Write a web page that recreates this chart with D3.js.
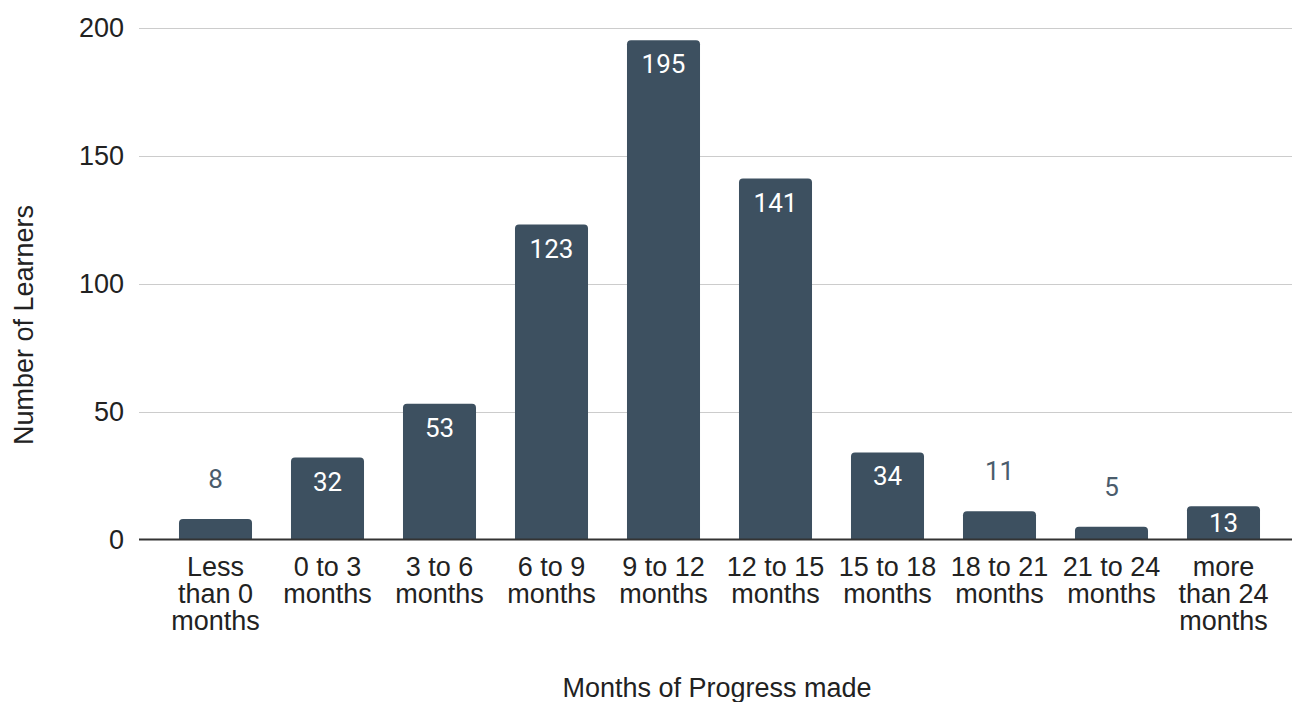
<!DOCTYPE html>
<html>
<head>
<meta charset="utf-8">
<script src="https://cdn.jsdelivr.net/npm/d3@7"></script>
<style>
  html, body { margin: 0; padding: 0; background: #fff; }
  svg { display: block; }
</style>
</head>
<body>
<svg id="chart" width="1292" height="702"></svg>
<script>
// Distribution of learners by months of progress made
const categories = [
  "Less than 0 months", "0 to 3 months", "3 to 6 months", "6 to 9 months",
  "9 to 12 months", "12 to 15 months", "15 to 18 months", "18 to 21 months",
  "21 to 24 months", "more than 24 months"
];
const categoryLines = [
  ["Less", "than 0", "months"], ["0 to 3", "months"], ["3 to 6", "months"],
  ["6 to 9", "months"], ["9 to 12", "months"], ["12 to 15", "months"],
  ["15 to 18", "months"], ["18 to 21", "months"], ["21 to 24", "months"],
  ["more", "than 24", "months"]
];
const learners = [8, 32, 53, 123, 195, 141, 34, 11, 5, 13];
const yTicks = [0, 50, 100, 150, 200];
const xTitle = "Months of Progress made";
const yTitle = "Number of Learners";

const barColor = "#3d5060";
const textColor = "#222222";
const axisFont = "'Liberation Sans', Arial, sans-serif";
const valueFont = "Roboto, 'Noto Sans', sans-serif";

const svg = d3.select("#chart");
const plotLeft = 139, plotRight = 1292, plotTop = 27.5, plotBottom = 539.5;

const x = d3.scaleBand()
  .domain(categories)
  .range([159.5, 1279.5])
  .paddingInner(0.348)
  .paddingOuter(0.174);

const y = d3.scaleLinear()
  .domain([0, 200])
  .range([plotBottom, plotTop]);

// Gridlines
svg.append("g")
  .selectAll("line")
  .data(yTicks.filter(t => t !== 0))
  .join("line")
  .attr("x1", plotLeft).attr("x2", plotRight)
  .attr("y1", d => Math.round(y(d)) + 0.5).attr("y2", d => Math.round(y(d)) + 0.5)
  .attr("stroke", "#cccccc")
  .attr("stroke-width", 1.2);

// Y tick labels
svg.append("g")
  .selectAll("text")
  .data(yTicks)
  .join("text")
  .attr("x", 124)
  .attr("y", d => y(d))
  .attr("dy", "0.36em")
  .attr("text-anchor", "end")
  .attr("font-family", axisFont)
  .attr("font-size", 27)
  .attr("fill", textColor)
  .text(d => d);

// Bars with rounded top corners
function barPath(x0, w, top, bottom, r) {
  const rr = Math.min(r, (bottom - top), w / 2);
  return `M${x0},${bottom}V${top + rr}Q${x0},${top} ${x0 + rr},${top}` +
         `H${x0 + w - rr}Q${x0 + w},${top} ${x0 + w},${top + rr}V${bottom}Z`;
}

svg.append("g")
  .selectAll("path")
  .data(categories)
  .join("path")
  .attr("d", (c, i) => barPath(x(c), x.bandwidth(), y(learners[i]), y(0), 4))
  .attr("fill", barColor);

// Value labels: inside the bar when it is tall enough, above it otherwise
svg.append("g")
  .selectAll("text")
  .data(categories)
  .join("text")
  .each(function (c, i) {
    const v = learners[i];
    const top = y(v), h = y(0) - top;
    const inside = h >= 30;
    const base = inside ? top + Math.min(33, h / 2 + 9.5) : top - 31;
    d3.select(this)
      .attr("x", x(c) + x.bandwidth() / 2)
      .attr("y", base)
      .attr("fill", inside ? "#ffffff" : "#4a5c6c");
  })
  .attr("text-anchor", "middle")
  .attr("font-family", valueFont)
  .attr("font-size", 26)
  .text((c, i) => learners[i]);

// X axis baseline
svg.append("line")
  .attr("x1", plotLeft).attr("x2", plotRight)
  .attr("y1", y(0)).attr("y2", y(0))
  .attr("stroke", "#333333")
  .attr("stroke-width", 1.8);

// X category labels (wrapped)
const xLabels = svg.append("g")
  .selectAll("text")
  .data(categories)
  .join("text")
  .attr("text-anchor", "middle")
  .attr("font-family", axisFont)
  .attr("font-size", 27)
  .attr("fill", textColor);

xLabels.each(function (c, i) {
  const t = d3.select(this);
  categoryLines[i].forEach((line, k) => {
    t.append("tspan")
      .attr("x", x(c) + x.bandwidth() / 2)
      .attr("y", 576 + k * 27)
      .text(line);
  });
});

// Axis titles
svg.append("text")
  .attr("x", 717)
  .attr("y", 697)
  .attr("text-anchor", "middle")
  .attr("font-family", axisFont)
  .attr("font-size", 27)
  .attr("fill", textColor)
  .text(xTitle);

svg.append("text")
  .attr("transform", "translate(33,325) rotate(-90)")
  .attr("text-anchor", "middle")
  .attr("font-family", axisFont)
  .attr("font-size", 27)
  .attr("fill", textColor)
  .text(yTitle);
</script>
</body>
</html>
